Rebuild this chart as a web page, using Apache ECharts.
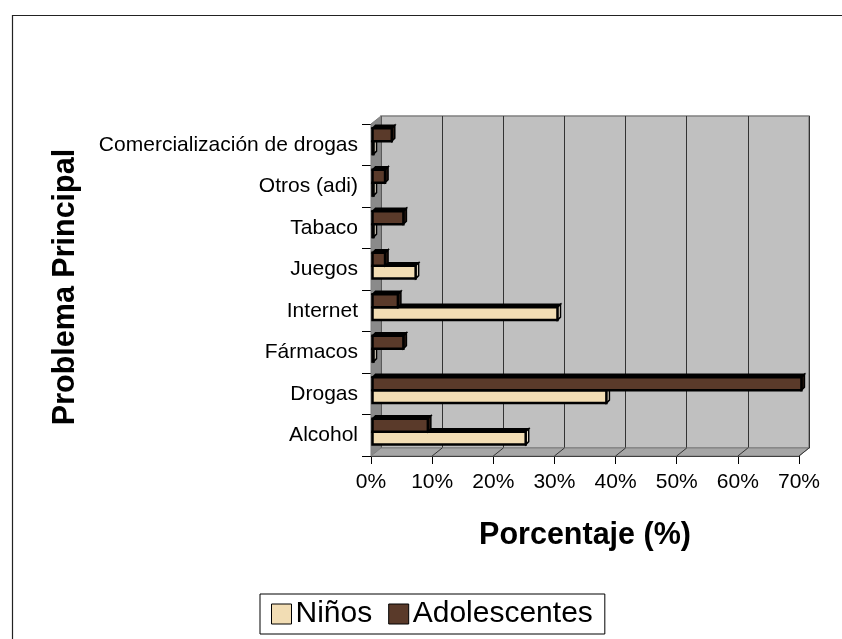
<!DOCTYPE html>
<html><head><meta charset="utf-8">
<script src="https://cdn.jsdelivr.net/npm/echarts/dist/echarts.min.js"></script>
<style>html,body{margin:0;padding:0;background:#fff}#c{width:842px;height:639px}</style>
</head><body><div id="c"></div>
<script>
const categories = ['Alcohol','Drogas','Fármacos','Internet','Juegos','Tabaco','Otros (adi)','Comercialización de drogas'];
const seriesNames = ['Niños','Adolescentes'];
const ninos = [25.3, 38.5, 0, 30.5, 7.3, 0, 0, 0];
const adolescentes = [9.3, 70.4, 5.3, 4.4, 2.3, 5.3, 2.3, 3.4];
const xMin = 0, xMax = 70, xStep = 10;

const FONT = '"Liberation Sans", Arial, sans-serif';
const L = 371, T = 124, R = 842 - 799, B = 639 - 456;
const DX = 10, DY = 8;
const colors = ['#F2DDB4', '#5A3A2A'];
const sideColors = ['#FBF1DC', '#2a1a12'];

function renderBar(params, api) {
  const v = api.value(0), c = api.value(1);
  const p0 = api.coord([0, c]);
  const p1 = api.coord([v, c]);
  const band = api.size([0, 1])[1];
  const h = band * 0.31;
  const d = 3;
  const mid = p0[1] - band * 0.085;
  const y = params.seriesIndex === 0 ? mid : mid - h;
  const x0 = p0[0] + 1.5;
  const x1 = Math.max(p1[0], x0 + 1);
  const col = api.visual('color');
  return {type: 'group', children: [
    {type: 'polygon', shape: {points: [[x0, y], [x0 + d, y - d], [x1 + d, y - d], [x1, y]]},
     style: {fill: '#000', stroke: '#000', lineWidth: 1.5}},
    {type: 'polygon', shape: {points: [[x1, y], [x1 + d, y - d], [x1 + d, y + h - d], [x1, y + h]]},
     style: {fill: sideColors[params.seriesIndex], stroke: '#000', lineWidth: 1.5}},
    {type: 'rect', shape: {x: x0, y: y, width: x1 - x0, height: h},
     style: {fill: col, stroke: '#000', lineWidth: 2.5}}
  ]};
}

const chart = echarts.init(document.getElementById('c'), null, {renderer: 'canvas'});
const option = {
  animation: false,
  backgroundColor: '#fff',
  textStyle: {fontFamily: FONT},
  grid: [
    {left: L, top: T, right: R, bottom: B, containLabel: false},
    {left: L + DX, top: T - DY, right: R - DX, bottom: B + DY, show: true,
     backgroundColor: '#C0C0C0', borderColor: '#808080', borderWidth: 1.5, z: 0}
  ],
  xAxis: [
    {type: 'value', gridIndex: 0, min: xMin, max: xMax, interval: xStep,
     axisLine: {show: true, lineStyle: {color: '#000', width: 1}},
     axisTick: {show: true, length: 8, lineStyle: {color: '#000'}},
     axisLabel: {formatter: '{value}%', fontSize: 21, color: '#000', margin: 16, fontFamily: FONT},
     splitLine: {show: false}},
    {type: 'value', gridIndex: 1, min: xMin, max: xMax, interval: xStep,
     axisLine: {show: false}, axisTick: {show: false}, axisLabel: {show: false},
     splitLine: {show: true, lineStyle: {color: '#333', width: 1}}}
  ],
  yAxis: [
    {type: 'category', gridIndex: 0, data: categories,
     axisLine: {show: true, lineStyle: {color: '#000', width: 1}},
     axisTick: {show: true, length: 9, interval: 0, lineStyle: {color: '#000'}},
     axisLabel: {fontSize: 21, color: '#000', margin: 13, interval: 0, fontFamily: FONT}},
    {type: 'category', gridIndex: 1, data: categories, show: false}
  ],
  legend: {
    data: seriesNames, left: 260, top: 594, orient: 'horizontal',
    padding: [5, 12, 5, 11], itemGap: 16, itemWidth: 20, itemHeight: 20,
    icon: 'rect', borderColor: '#000', borderWidth: 1, backgroundColor: '#fff',
    itemStyle: {borderColor: '#000', borderWidth: 1},
    textStyle: {fontSize: 30, color: '#000', fontFamily: FONT, padding: [0, 0, 0, -1]}
  },
  series: [
    {name: seriesNames[0], type: 'custom', xAxisIndex: 0, yAxisIndex: 0, renderItem: renderBar,
     itemStyle: {color: colors[0]}, encode: {x: 0, y: 1}, z: 5,
     data: ninos.map((v, i) => [v, i])},
    {name: seriesNames[1], type: 'custom', xAxisIndex: 0, yAxisIndex: 0, renderItem: renderBar,
     itemStyle: {color: colors[1]}, encode: {x: 0, y: 1}, z: 5,
     data: adolescentes.map((v, i) => [v, i])}
  ]
};
chart.setOption(option);

// 3D walls & decorations derived from axis positions
const x0 = chart.convertToPixel({xAxisIndex: 0}, xMin);
const x1 = chart.convertToPixel({xAxisIndex: 0}, xMax);
const yTop = T, yBot = 639 - B;
const g = [];
g.push({type: 'rect', left: 10, top: 13, shape: {x: 0, y: 0, width: 860, height: 660},
  style: {fill: 'none', stroke: '#222', lineWidth: 1.2}, z: -10, silent: true});
g.push({type: 'polygon', shape: {points: [[x0, yTop], [x0 + DX, yTop - DY], [x0 + DX, yBot - DY], [x0, yBot]]},
  style: {fill: '#8a8a8a', stroke: '#808080', lineWidth: 1}, z: 1, silent: true});
g.push({type: 'polygon', shape: {points: [[x0, yBot], [x0 + DX, yBot - DY], [x1 + DX, yBot - DY], [x1, yBot]]},
  style: {fill: '#A6A6A6', stroke: '#808080', lineWidth: 1}, z: 1, silent: true});
for (let v = xMin + xStep; v <= xMax; v += xStep) {
  const px = chart.convertToPixel({xAxisIndex: 0}, v);
  g.push({type: 'line', shape: {x1: px, y1: yBot, x2: px + DX, y2: yBot - DY},
    style: {stroke: '#333', lineWidth: 1}, z: 2, silent: true});
}
g.push({type: 'text', x: (x0 + x1) / 2, y: 536,
  style: {text: 'Porcentaje (%)', font: 'bold 30.5px ' + FONT, fill: '#000', textAlign: 'center', textVerticalAlign: 'middle'}, z: 10});
g.push({type: 'text', x: 66, y: 287, rotation: Math.PI / 2,
  style: {text: 'Problema Principal', font: 'bold 30.5px ' + FONT, fill: '#000', textAlign: 'center', textVerticalAlign: 'middle'}, z: 10});
chart.setOption({graphic: g});
</script>
</body></html>
